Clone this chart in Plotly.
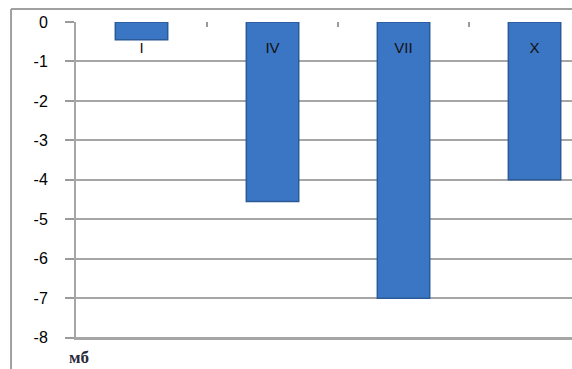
import plotly.graph_objects as go

categories = ["I", "IV", "VII", "X"]
values = [-0.45, -4.55, -7.0, -4.0]
y_ticks = [0, -1, -2, -3, -4, -5, -6, -7, -8]

fig = go.Figure()
fig.add_trace(go.Bar(
    x=categories, y=values, width=0.4,
    marker=dict(color="#3b76c4", line=dict(color="#2a5a98", width=1.5)),
    showlegend=False, hoverinfo="skip",
))
fig.add_trace(go.Scatter(
    x=categories, y=[-0.68] * len(categories), mode="text", text=categories,
    textfont=dict(family="Liberation Sans", size=15, color="#111111"),
    showlegend=False, hoverinfo="skip",
))

fig.update_layout(
    width=572, height=369,
    margin=dict(l=76, r=0, t=22, b=29),
    paper_bgcolor="white", plot_bgcolor="white",
    bargap=0.6,
    xaxis=dict(
        side="top", range=[-0.5, 3.286], showticklabels=False,
        tickson="boundaries", ticks="inside", ticklen=5, tickcolor="#9a9a9a", tickwidth=2,
        showgrid=False, showline=False, zeroline=False, fixedrange=True,
    ),
    yaxis=dict(
        range=[-8.06, 0], tickvals=y_ticks, ticktext=[str(v) for v in y_ticks],
        ticks="outside", ticklen=9, tickcolor="#9a9a9a", tickwidth=2,
        showgrid=True, gridcolor="#a6a6a6", gridwidth=2,
        showline=True, linecolor="#a6a6a6", linewidth=2,
        zeroline=False,
        tickfont=dict(family="Liberation Sans", size=16, color="#000000"),
        ticklabelstandoff=14,
    ),
    shapes=[
        dict(type="line", xref="x", yref="paper", x0=-0.5, x1=3.286, y0=0.0035, y1=0.0035,
             line=dict(color="#a6a6a6", width=2), layer="above"),
        dict(type="line", xref="paper", yref="paper", x0=-0.131, x1=1.1, y0=1.041, y1=1.041,
             line=dict(color="#a0a0a0", width=2)),
        dict(type="line", xref="paper", yref="paper", x0=-0.131, x1=-0.131, y0=1.041, y1=-0.2,
             line=dict(color="#a0a0a0", width=2)),
    ],
    annotations=[
        dict(text="<b>мб</b>", xref="paper", yref="paper", x=-0.018, y=-0.02,
             xanchor="left", yanchor="top", showarrow=False,
             font=dict(family="Liberation Serif", size=17, color="#2a2a3a")),
    ],
)

fig.write_html("out.html")
